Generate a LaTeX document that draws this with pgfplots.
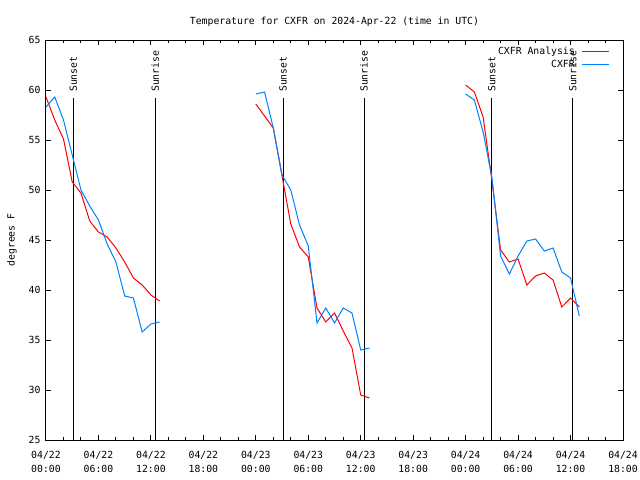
\documentclass[border=0pt]{standalone}
\usepackage{fontspec}
\setmainfont{DejaVu Sans Mono}
\usepackage{pgfplots}
\pgfplotsset{compat=1.18}
\definecolor{cred}{RGB}{255,0,0}
\definecolor{cblue}{RGB}{0,128,255}
\begin{document}
\fontsize{9.8bp}{14bp}\selectfont
\begin{tikzpicture}
\path[use as bounding box] (-46bp,-40bp) rectangle (594bp,440bp);
\begin{axis}[
  at={(0,0)}, anchor=south west,
  scale only axis, width=577bp, height=400bp,
  xmin=0, xmax=66, ymin=25, ymax=65,
  xtick={0,6,...,66},
  minor xtick={2,4,8,10,14,16,20,22,26,28,32,34,38,40,44,46,50,52,56,58,62,64},
  xticklabels={04/22\\00:00,04/22\\06:00,04/22\\12:00,04/22\\18:00,04/23\\00:00,04/23\\06:00,04/23\\12:00,04/23\\18:00,04/24\\00:00,04/24\\06:00,04/24\\12:00,04/24\\18:00},
  ytick={25,30,...,65},
  /pgf/number format/assume math mode=true,
  tick align=inside, tick pos=both,
  major tick length=5bp, minor tick length=3bp,
  every tick/.style={black, line width=1bp},
  axis line style={black, line width=1bp},
  xticklabel style={align=center, yshift=-8bp, font=\fontsize{9.8bp}{14bp}\selectfont},
  yticklabel style={xshift=-2bp, font=\fontsize{9.8bp}{14bp}\selectfont},
  title={Temperature for CXFR on 2024-Apr-22 (time in UTC)},
  title style={at={(axis description cs:0.5,1.03)}, anchor=center, font=\fontsize{9.8bp}{14bp}\selectfont},
  ylabel={degrees F},
  every axis y label/.style={at={(axis description cs:-0.0589,0.5)}, rotate=90, anchor=center, font=\fontsize{9.8bp}{14bp}\selectfont},
  unbounded coords=jump,
  legend style={at={(axis description cs:0.9775,0.987)}, anchor=north east, draw=none, fill=none, font=\fontsize{9.8bp}{14bp}\selectfont, row sep=0bp, column sep=5bp, inner sep=0pt},
  legend cell align=right,
  legend plot pos=right,
  legend image post style={xscale=1.59},
]
% sunset / sunrise lines
\addplot[black, line width=1bp, forget plot] coordinates {(3.12,25) (3.12,59.2)};
\addplot[black, line width=1bp, forget plot] coordinates {(12.49,25) (12.49,59.2)};
\addplot[black, line width=1bp, forget plot] coordinates {(27.12,25) (27.12,59.2)};
\addplot[black, line width=1bp, forget plot] coordinates {(36.38,25) (36.38,59.2)};
\addplot[black, line width=1bp, forget plot] coordinates {(51.0,25) (51.0,59.2)};
\addplot[black, line width=1bp, forget plot] coordinates {(60.26,25) (60.26,59.2)};
\node[rotate=90, anchor=west, inner sep=0pt] at (axis cs:3.12,59.8) {Sunset};
\node[rotate=90, anchor=west, inner sep=0pt] at (axis cs:12.49,59.8) {Sunrise};
\node[rotate=90, anchor=west, inner sep=0pt] at (axis cs:27.12,59.8) {Sunset};
\node[rotate=90, anchor=west, inner sep=0pt] at (axis cs:36.38,59.8) {Sunrise};
\node[rotate=90, anchor=west, inner sep=0pt] at (axis cs:51.0,59.8) {Sunset};
\node[rotate=90, anchor=west, inner sep=0pt] at (axis cs:60.26,59.8) {Sunrise};
% CXFR Analysis
\addplot[cred, line width=1bp] coordinates {
(0,59.3) (1,57.0) (2,55.1) (3,50.8) (4,49.7) (5,46.9) (6,45.8) (7,45.3) (8,44.2) (9,42.8) (10,41.2) (11,40.5) (12,39.5) (13,38.9)
(18,nan)
(24,58.6) (25,57.4) (26,56.2) (27,51.4) (28,46.6) (29,44.3) (30,43.3) (31,38.2) (32,36.8) (33,37.7) (34,35.9) (35,34.2) (36,29.5) (37,29.2)
(42,nan)
(48,60.5) (49,59.8) (50,57.3) (51,51.0) (52,44.0) (53,42.8) (54,43.1) (55,40.5) (56,41.4) (57,41.7) (58,41.0) (59,38.3) (60,39.2) (61,38.3)
};
\addlegendentry{CXFR Analysis}
% CXFR
\addplot[cblue, line width=1bp] coordinates {
(0,58.3) (1,59.3) (2,57.0) (3,53.5) (4,50.0) (5,48.4) (6,47.0) (7,44.6) (8,42.8) (9,39.4) (10,39.2) (11,35.8) (12,36.6) (13,36.8)
(18,nan)
(24,59.6) (25,59.8) (26,56.2) (27,51.5) (28,50.0) (29,46.5) (30,44.4) (31,36.7) (32,38.2) (33,36.7) (34,38.2) (35,37.7) (36,34.0) (37,34.2)
(42,nan)
(48,59.6) (49,59.0) (50,55.8) (51,51.3) (52,43.4) (53,41.6) (54,43.4) (55,44.9) (56,45.1) (57,43.9) (58,44.2) (59,41.8) (60,41.2) (61,37.4)
};
\addlegendentry{CXFR}
\end{axis}
\end{tikzpicture}
\end{document}
